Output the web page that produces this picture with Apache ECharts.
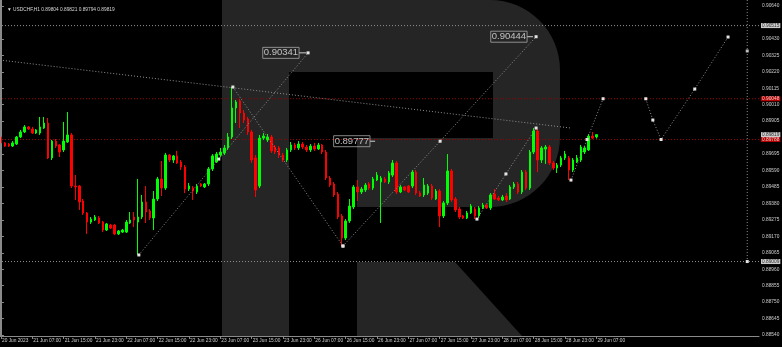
<!DOCTYPE html>
<html><head><meta charset="utf-8">
<script src="https://cdn.jsdelivr.net/npm/echarts@6/dist/echarts.min.js"></script>
<style>html,body{margin:0;padding:0;background:#000;}#c{width:782px;height:347px;}</style>
</head><body><div id="c"></div>
<script>
// ---------- DATA ----------
const symbolName = 'USDCHF,H1';
const xTickLabels = ['20 Jun 2023','21 Jun 07:00','21 Jun 15:00','21 Jun 23:00','22 Jun 07:00','22 Jun 15:00','22 Jun 23:00','23 Jun 07:00','23 Jun 15:00','23 Jun 23:00','26 Jun 07:00','26 Jun 15:00','26 Jun 23:00','27 Jun 07:00','27 Jun 15:00','27 Jun 23:00','28 Jun 07:00','28 Jun 15:00','28 Jun 23:00','29 Jun 07:00'];
const priceTicks = [0.90640,0.90430,0.90325,0.90220,0.90115,0.90010,0.89905,0.89695,0.89590,0.89485,0.89380,0.89275,0.89170,0.89065,0.88960,0.88855,0.88750,0.88645,0.88540];

const opens = [0.89804,0.89766,0.89759,0.89746,0.89759,0.89804,0.89836,0.89868,0.89855,0.89829,0.89829,0.89861,0.89893,0.89670,0.89778,0.89753,0.89721,0.89772,0.89817,0.89491,
0.89491,0.89395,0.89319,0.89261,0.89274,0.89287,0.89261,0.89210,0.89242,0.89242,0.89185,0.89197,0.89197,0.89255,0.89293,0.89261,0.89293,0.89389,0.89332,0.89287,
0.89408,0.89536,0.89478,0.89689,0.89657,0.89683,0.89644,0.89612,0.89472,0.89478,0.89453,0.89504,0.89485,0.89504,0.89600,0.89644,0.89689,0.89702,0.89734,0.89804,
0.89989,0.90034,0.89957,0.89919,0.89836,0.89670,0.89491,0.89797,0.89785,0.89804,0.89740,0.89734,0.89689,0.89657,0.89721,0.89753,0.89734,0.89759,0.89740,0.89721,
0.89746,0.89727,0.89753,0.89708,0.89542,0.89504,0.89440,0.89300,0.89159,0.89268,0.89357,0.89485,0.89453,0.89466,0.89504,0.89478,0.89529,0.89517,0.89536,0.89517,
0.89561,0.89638,0.89453,0.89485,0.89491,0.89491,0.89580,0.89446,0.89434,0.89446,0.89491,0.89408,0.89459,0.89300,0.89383,0.89587,0.89408,0.89344,0.89300,0.89287,
0.89319,0.89344,0.89300,0.89351,0.89370,0.89351,0.89440,0.89415,0.89402,0.89427,0.89408,0.89485,0.89504,0.89453,0.89580,0.89478,0.89708,0.89842,0.89657,0.89727,
0.89740,0.89638,0.89606,0.89625,0.89670,0.89670,0.89593,0.89644,0.89657,0.89708,0.89721,0.89810,0.89804];
const closes = [0.89766,0.89746,0.89746,0.89766,0.89804,0.89836,0.89868,0.89855,0.89829,0.89849,0.89868,0.89893,0.89670,0.89778,0.89746,0.89708,0.89778,0.89817,0.89491,0.89485,
0.89389,0.89319,0.89261,0.89280,0.89293,0.89255,0.89210,0.89249,0.89223,0.89185,0.89204,0.89210,0.89261,0.89274,0.89274,0.89293,0.89389,0.89325,0.89287,0.89408,
0.89536,0.89478,0.89689,0.89657,0.89683,0.89638,0.89612,0.89472,0.89491,0.89459,0.89491,0.89491,0.89504,0.89600,0.89683,0.89695,0.89708,0.89734,0.89804,0.89989,
0.90027,0.89957,0.89912,0.89836,0.89657,0.89466,0.89797,0.89810,0.89804,0.89715,0.89708,0.89689,0.89657,0.89721,0.89753,0.89734,0.89759,0.89740,0.89721,0.89746,
0.89727,0.89753,0.89708,0.89542,0.89497,0.89434,0.89293,0.89159,0.89268,0.89363,0.89485,0.89453,0.89472,0.89497,0.89478,0.89536,0.89561,0.89542,0.89517,0.89574,
0.89638,0.89453,0.89485,0.89466,0.89453,0.89580,0.89446,0.89427,0.89497,0.89491,0.89415,0.89459,0.89300,0.89383,0.89587,0.89402,0.89338,0.89293,0.89287,0.89319,
0.89363,0.89300,0.89351,0.89370,0.89351,0.89434,0.89408,0.89402,0.89421,0.89402,0.89485,0.89504,0.89453,0.89580,0.89478,0.89708,0.89842,0.89657,0.89734,0.89740,
0.89638,0.89606,0.89625,0.89670,0.89695,0.89593,0.89657,0.89670,0.89740,0.89734,0.89810,0.89797,0.89819];
const lows = [0.89753,0.89740,0.89740,0.89740,0.89753,0.89797,0.89829,0.89849,0.89823,0.89823,0.89817,0.89855,0.89663,0.89657,0.89734,0.89676,0.89708,0.89766,0.89478,0.89402,
0.89338,0.89306,0.89185,0.89249,0.89268,0.89249,0.89197,0.89204,0.89217,0.89178,0.89178,0.89191,0.89191,0.89249,0.89229,0.89051,0.89280,0.89255,0.89274,0.89210,
0.89395,0.89427,0.89466,0.89644,0.89638,0.89632,0.89593,0.89446,0.89459,0.89402,0.89440,0.89485,0.89478,0.89491,0.89587,0.89638,0.89676,0.89689,0.89721,0.89791,
0.89893,0.89861,0.89893,0.89817,0.89638,0.89421,0.89478,0.89785,0.89772,0.89702,0.89695,0.89670,0.89644,0.89644,0.89708,0.89721,0.89721,0.89727,0.89708,0.89708,
0.89715,0.89721,0.89695,0.89529,0.89485,0.89421,0.89280,0.89108,0.89146,0.89255,0.89344,0.89395,0.89440,0.89453,0.89466,0.89466,0.89523,0.89255,0.89510,0.89504,
0.89549,0.89440,0.89446,0.89459,0.89446,0.89478,0.89434,0.89421,0.89421,0.89434,0.89402,0.89402,0.89229,0.89287,0.89370,0.89389,0.89325,0.89280,0.89280,0.89280,
0.89312,0.89280,0.89287,0.89344,0.89344,0.89338,0.89402,0.89395,0.89395,0.89389,0.89402,0.89472,0.89440,0.89440,0.89466,0.89466,0.89695,0.89580,0.89638,0.89632,
0.89625,0.89593,0.89574,0.89612,0.89657,0.89529,0.89580,0.89638,0.89644,0.89695,0.89715,0.89791,0.89794];
const highs = [0.89817,0.89772,0.89766,0.89778,0.89810,0.89849,0.89880,0.89874,0.89868,0.89855,0.89932,0.89932,0.89925,0.89785,0.89791,0.89759,0.89900,0.89963,0.89829,0.89561,
0.89497,0.89408,0.89325,0.89293,0.89306,0.89300,0.89268,0.89255,0.89249,0.89249,0.89210,0.89217,0.89274,0.89325,0.89325,0.89536,0.89434,0.89491,0.89344,0.89459,
0.89549,0.89651,0.89702,0.89695,0.89689,0.89715,0.89657,0.89625,0.89510,0.89491,0.89504,0.89510,0.89510,0.89612,0.89695,0.89708,0.89734,0.89753,0.89829,0.90123,
0.90040,0.90046,0.89976,0.89932,0.89849,0.89689,0.89817,0.89829,0.89823,0.89817,0.89753,0.89746,0.89702,0.89734,0.89772,0.89766,0.89778,0.89772,0.89753,0.89759,
0.89766,0.89766,0.89759,0.89721,0.89555,0.89517,0.89453,0.89312,0.89280,0.89408,0.89497,0.89529,0.89485,0.89510,0.89517,0.89549,0.89580,0.89555,0.89549,0.89587,
0.89657,0.89651,0.89497,0.89491,0.89497,0.89593,0.89593,0.89459,0.89542,0.89504,0.89504,0.89472,0.89472,0.89395,0.89695,0.89600,0.89421,0.89357,0.89306,0.89332,
0.89376,0.89357,0.89363,0.89383,0.89376,0.89446,0.89472,0.89427,0.89434,0.89446,0.89497,0.89517,0.89517,0.89593,0.89593,0.89721,0.89861,0.89855,0.89746,0.89753,
0.89753,0.89651,0.89638,0.89683,0.89715,0.89683,0.89670,0.89689,0.89753,0.89746,0.89823,0.89836,0.89821];

// horizontal levels drawn on the chart
const levelPrices = [0.90515, 0.90048, 0.89819, 0.89788, 0.89009];
const levelKinds  = ['grey', 'red', 'bid', 'red', 'grey'];

// drawn analysis lines: [bar position, price]
const trendLine   = [[-0.25, 0.90295], [145.5, 0.89861]];
const waveA       = [[35.2, 0.89051], [55.6, 0.89663], [78.4, 0.90341]];
const waveB       = [[59.2, 0.90123], [87.3, 0.89108]];
const waveC       = [[87.3, 0.89108], [112.1, 0.89777], [136.6, 0.90444]];
const waveD       = [[121.5, 0.89280], [128.9, 0.89568], [136.6, 0.89861]];
const waveE       = [[145.5, 0.89529], [149.6, 0.89788], [153.7, 0.90048]];
const forecast    = [[164.6, 0.90048], [166.4, 0.89912], [168.5, 0.89788], [177.1, 0.90110], [185.6, 0.90442]];
const timeLine    = [[190.5, 0.90678], [190.5, 0.89009]];
const timeMarks   = [[190.5, 0.90353]];
const targetLabels = [[76.1, 0.90341, 78.0], [134.3, 0.90444, 135.8], [94.2, 0.89777, 95.5]];

// ---------- BUILD ----------
const TOTAL_BARS = 194;
const X_MAX = TOTAL_BARS - 0.5;
const FONT = "'Liberation Sans',sans-serif";
const FS = 4.8;
const MON = ['Jan','Feb','Mar','Apr','May','Jun','Jul','Aug','Sep','Oct','Nov','Dec'];
const cats = [];
let t = Date.UTC(2023, 5, 20, 23);
while (cats.length < TOTAL_BARS) {
  const d = new Date(t); const wd = d.getUTCDay();
  if (wd !== 0 && wd !== 6) {
    cats.push(d.getUTCDate() + ' ' + MON[d.getUTCMonth()] + ' ' + String(d.getUTCHours()).padStart(2,'0') + ':00');
  }
  t += 3600000;
}
const candles = opens.map((o, i) => [o, closes[i], lows[i], highs[i]]);
const last = opens.length - 1;

const DOT = '#8f8f8f';
function dotted(data, opts) {
  opts = opts || {};
  return {
    type: 'line', xAxisIndex: 1, yAxisIndex: 0, silent: true, animation: false, z: 4,
    data: data.map((p, i) => ({ value: p, symbol: (opts.noSym && opts.noSym.includes(i)) ? 'none' : 'rect' })),
    symbol: 'rect', symbolSize: 3, showAllSymbol: true,
    itemStyle: { color: '#e8e4e4' },
    lineStyle: { color: DOT, width: 1, type: [1, 2] }
  };
}

const levelStyle = {
  grey: { line: { color: '#8f8f8f', width: 1, type: [1, 2] }, bg: '#ffffff', fg: '#000' },
  red:  { line: { color: '#a00000', width: 1, type: [1, 2] }, bg: '#e00000', fg: '#fff' },
  bid:  { line: null, bg: '#ffffff', fg: '#000' }
};

const series = [
  {
    type: 'candlestick', xAxisIndex: 0, yAxisIndex: 0, data: candles, barWidth: 2, z: 3,
    animation: false, silent: true,
    itemStyle: { color: '#00ff00', color0: '#ff0000', borderColor: '#00ff00', borderColor0: '#ff0000', borderWidth: 1 }
  },
  dotted(trendLine, { noSym: [0, 1] }),
  dotted(waveA), dotted(waveB), dotted(waveC), dotted(waveD), dotted(waveE), dotted(forecast),
  dotted(timeLine, { noSym: [0] }),
  { type: 'scatter', xAxisIndex: 1, yAxisIndex: 0, data: timeMarks, symbol: 'rect', symbolSize: 3,
    itemStyle: { color: '#e8e4e4' }, silent: true, animation: false, z: 5 },
  {
    type: 'scatter', xAxisIndex: 1, yAxisIndex: 0, silent: true, animation: false, z: 6,
    symbolSize: 0, data: targetLabels.map(r => [r[0], r[1]]),
    label: { show: true, position: 'left', distance: 0, formatter: p => p.value[1].toFixed(5),
             color: '#e6e6e6', fontSize: 9.5, fontFamily: 'Liberation Sans', borderColor: '#a8a8a8', borderWidth: 1,
             padding: [1, 1, 0, 1] }
  }
];
targetLabels.forEach(r => {
  series.push({ type: 'line', xAxisIndex: 1, yAxisIndex: 0, silent: true, animation: false, z: 5,
    symbol: 'none', data: [[r[0], r[1]], [r[2], r[1]]], lineStyle: { color: '#d0d0d0', width: 1 } });
});
// level lines
levelPrices.forEach((p, i) => {
  const s = levelStyle[levelKinds[i]];
  if (s.line) {
    series.push({ type: 'line', xAxisIndex: 1, yAxisIndex: 0, silent: true, animation: false, z: 2,
      symbol: 'none', data: [[-0.5, p], [X_MAX, p]], lineStyle: s.line });
  }
});
// level price boxes on the price scale
series.push({
  type: 'scatter', xAxisIndex: 1, yAxisIndex: 0, silent: true, animation: false, z: 20, clip: false,
  symbolSize: 0,
  data: levelPrices.map((p, i) => {
    const s = levelStyle[levelKinds[i]];
    return { value: [X_MAX, p], label: { backgroundColor: s.bg, color: s.fg } };
  }),
  label: { show: true, position: 'right', distance: 2, formatter: q => q.value[1].toFixed(5),
           fontSize: FS, lineHeight: 5, fontFamily: FONT, padding: [0, 1, 0, 1] }
});

// watermark "R" outline (decorative background, pixel space)
function arcPts(cx, cy, r, a0, a1, n) {
  const pts = [];
  for (let k = 0; k <= n; k++) { const a = a0 + (a1 - a0) * k / n; pts.push([cx + r * Math.cos(a), cy + r * Math.sin(a)]); }
  return pts;
}
const bowl = [[289, 0]]
  .concat(arcPts(490, 70, 70, -Math.PI / 2, 0, 16))
  .concat(arcPts(490, 137, 70, 0, Math.PI / 2, 16))
  .concat([[357, 207], [357, 138], [493, 138], [493, 72], [289, 72]]);

const R_GREY = '#252525';
const option = {
  backgroundColor: '#000',
  animation: false,
  grid: { left: -1, right: 23, top: 0, bottom: 11, containLabel: false, outerBoundsMode: 'none' },
  title: {
    text: '\u25BC ' + symbolName + ' ' + opens[last].toFixed(5) + ' ' + highs[last].toFixed(5) + ' ' + lows[last].toFixed(5) + ' ' + closes[last].toFixed(5),
    left: 2, top: 2,
    textStyle: { color: '#d8d8d8', fontSize: FS, fontWeight: 'normal', fontFamily: FONT }
  },
  xAxis: [
    {
      type: 'category', data: cats, boundaryGap: true, gridIndex: 0,
      axisLine: { show: true, lineStyle: { color: '#8a8a8a', width: 1 } },
      axisTick: { show: true, length: 3, alignWithLabel: true, interval: i => i % 8 === 0 && i <= last,
                  lineStyle: { color: '#8a8a8a' } },
      axisLabel: { show: true, interval: i => i % 8 === 0 && i <= last, align: 'left', margin: 2,
                   showMinLabel: true, hideOverlap: false,
                   padding: [0, 0, 0, 1], formatter: (v, i) => xTickLabels[i / 8] || '',
                   color: '#cfcfcf', fontSize: FS, fontFamily: FONT },
      splitLine: { show: false }
    },
    { type: 'value', min: -0.5, max: X_MAX, show: false, gridIndex: 0 }
  ],
  yAxis: {
    type: 'value', position: 'right', min: 0.885337, max: 0.906783, scale: true,
    splitLine: { show: false },
    axisLine: { show: true, lineStyle: { color: '#8a8a8a', width: 1 } },
    axisTick: { show: true, length: 3, customValues: priceTicks, lineStyle: { color: '#8a8a8a' } },
    axisLabel: { show: true, customValues: priceTicks, formatter: v => v.toFixed(5), margin: 3,
                 showMinLabel: true, showMaxLabel: true, hideOverlap: false,
                 color: '#cfcfcf', fontSize: FS, fontFamily: FONT }
  },
  graphic: [
    { type: 'rect', z: -10, silent: true, shape: { x: 222, y: 0, width: 67, height: 336 }, style: { fill: R_GREY } },
    { type: 'polygon', z: -10, silent: true, shape: { points: bowl }, style: { fill: R_GREY } },
    { type: 'polygon', z: -10, silent: true, shape: { points: [[357, 262], [455, 262], [522, 336], [357, 336]] }, style: { fill: R_GREY } },
    { type: 'line', z: 10, silent: true, shape: { x1: 0.5, y1: 0, x2: 0.5, y2: 336 }, style: { stroke: '#8a8a8a', lineWidth: 1 } }
  ],
  series: series
};
const chart = echarts.init(document.getElementById('c'), null, { renderer: 'canvas' });
chart.setOption(option);
</script>
</body></html>
